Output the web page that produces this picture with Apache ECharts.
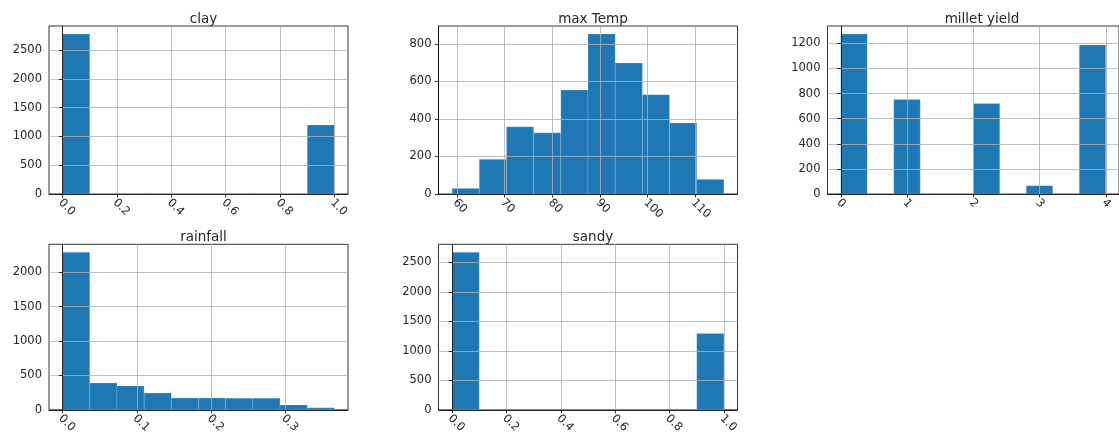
<!DOCTYPE html>
<html>
<head>
<meta charset="utf-8">
<script src="https://cdn.jsdelivr.net/npm/echarts@6/dist/echarts.min.js"></script>
<style>
html,body{margin:0;padding:0;background:#fff;}
#c{width:1119px;height:436px;}
</style>
</head>
<body>
<div id="c"></div>
<script>
// ---- data ----
var titles = ['clay', 'max Temp', 'millet yield', 'rainfall', 'sandy'];

var clayEdges = [0, 0.1, 0.2, 0.3, 0.4, 0.5, 0.6, 0.7, 0.8, 0.9, 1.0];
var clayCounts = [2778, 0, 0, 0, 0, 0, 0, 0, 0, 1198];
var clayXTicks = [0, 0.2, 0.4, 0.6, 0.8, 1.0];
var clayYTicks = [0, 500, 1000, 1500, 2000, 2500];

var tempEdges = [59, 64.7, 70.4, 76.1, 81.8, 87.5, 93.2, 98.9, 104.6, 110.3, 116];
var tempCounts = [30, 185, 358, 326, 554, 853, 698, 529, 379, 78];
var tempXTicks = [60, 70, 80, 90, 100, 110];
var tempYTicks = [0, 200, 400, 600, 800];

var milletEdges = [0, 0.4, 0.8, 1.2, 1.6, 2.0, 2.4, 2.8, 3.2, 3.6, 4.0];
var milletCounts = [1275, 0, 753, 0, 0, 721, 0, 66, 0, 1187];
var milletXTicks = [0, 1, 2, 3, 4];
var milletYTicks = [0, 200, 400, 600, 800, 1000, 1200];

var rainEdges = [0, 0.0366, 0.0732, 0.1098, 0.1464, 0.183, 0.2196, 0.2562, 0.2928, 0.3294, 0.366];
var rainCounts = [2291, 391, 348, 243, 171, 171, 170, 170, 71, 29];
var rainXTicks = [0, 0.1, 0.2, 0.3];
var rainYTicks = [0, 500, 1000, 1500, 2000];

var sandyEdges = [0, 0.1, 0.2, 0.3, 0.4, 0.5, 0.6, 0.7, 0.8, 0.9, 1.0];
var sandyCounts = [2673, 0, 0, 0, 0, 0, 0, 0, 0, 1295];
var sandyXTicks = [0, 0.2, 0.4, 0.6, 0.8, 1.0];
var sandyYTicks = [0, 500, 1000, 1500, 2000, 2500];

// ---- layout ----
var FONT = 'DejaVu Sans';
var panels = [
  {edges: clayEdges, counts: clayCounts, xt: clayXTicks, yt: clayYTicks, dec: 1, left: 49, top: 26, h: 168},
  {edges: tempEdges, counts: tempCounts, xt: tempXTicks, yt: tempYTicks, dec: 0, left: 438.5, top: 26, h: 168},
  {edges: milletEdges, counts: milletCounts, xt: milletXTicks, yt: milletYTicks, dec: 0, left: 827.5, top: 26, h: 168},
  {edges: rainEdges, counts: rainCounts, xt: rainXTicks, yt: rainYTicks, dec: 1, left: 49, top: 244.3, h: 168.4},
  {edges: sandyEdges, counts: sandyCounts, xt: sandyXTicks, yt: sandyYTicks, dec: 1, left: 438.5, top: 244.3, h: 168.4}
];
var W = 299;

var grids = [], xAxes = [], yAxes = [], series = [], titleOpts = [];
panels.forEach(function (p, i) {
  var lo = p.edges[0], hi = p.edges[p.edges.length - 1];
  var pad = (hi - lo) * 0.05;
  var ymax = Math.max.apply(null, p.counts) * 1.05;
  grids.push({left: p.left, top: p.top, width: W, height: p.h, show: true,
    borderColor: '#000', borderWidth: 0.8, backgroundColor: 'transparent', containLabel: false});
  xAxes.push({
    type: 'value', gridIndex: i, min: lo - pad, max: hi + pad, z: 5,
    axisLine: {show: true, onZero: false, lineStyle: {color: '#000', width: 0.8}},
    axisTick: {show: true, length: 3.5, lineStyle: {color: '#000', width: 0.8}, customValues: p.xt},
    axisLabel: {customValues: p.xt, rotate: -45, margin: 9, color: '#262626', fontFamily: FONT, fontSize: 11.5,
      padding: [0, 0, 0, -3],
      formatter: (function (d) { return function (v) { return Number(v).toFixed(d); }; })(p.dec)},
    splitLine: {show: true, lineStyle: {color: '#b0b0b0', width: 0.8}}
  });
  yAxes.push({
    type: 'value', gridIndex: i, min: 0, max: ymax, z: 5,
    axisLine: {show: true, lineStyle: {color: '#000', width: 0.8}},
    axisTick: {show: true, length: 3.5, lineStyle: {color: '#000', width: 0.8}, customValues: p.yt},
    axisLabel: {customValues: p.yt, margin: 7, color: '#262626', fontFamily: FONT, fontSize: 11.5,
      formatter: function (v) { return String(Math.round(v)); }},
    splitLine: {show: true, lineStyle: {color: '#b0b0b0', width: 0.8}}
  });
  var data = p.counts.map(function (c, k) { return [p.edges[k], p.edges[k + 1], c]; });
  series.push({
    type: 'custom', xAxisIndex: i, yAxisIndex: i, z: 2, clip: true,
    encode: {x: [0, 1], y: 2},
    data: data,
    renderItem: function (params, api) {
      var a = api.coord([api.value(0), api.value(2)]);
      var b = api.coord([api.value(1), 0]);
      return {type: 'rect', shape: {x: a[0], y: a[1], width: b[0] - a[0], height: b[1] - a[1]},
        style: {fill: '#1f77b4', stroke: 'rgba(255,255,255,0.35)', lineWidth: 0.5}};
    }
  });
  titleOpts.push({text: titles[i], left: p.left + W / 2, top: p.top - 19, textAlign: 'center',
    textStyle: {fontFamily: FONT, fontSize: 13.5, fontWeight: 'normal', color: '#262626'}});
});

var chart = echarts.init(document.getElementById('c'), null, {renderer: 'canvas'});
chart.setOption({
  animation: false,
  title: titleOpts,
  grid: grids,
  xAxis: xAxes,
  yAxis: yAxes,
  series: series
});
</script>
</body>
</html>
